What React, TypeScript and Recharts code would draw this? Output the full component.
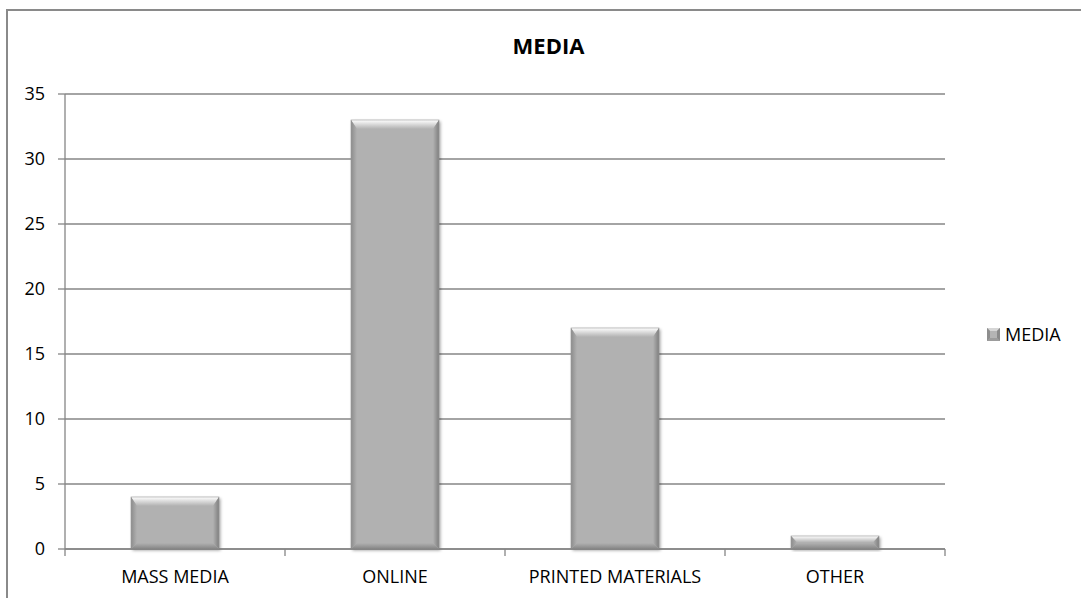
import React from 'react';
import { BarChart, Bar, XAxis, YAxis, CartesianGrid, Legend } from 'recharts';

// Survey answers: where people heard about it
const categories = ['MASS MEDIA', 'ONLINE', 'PRINTED MATERIALS', 'OTHER'];
const mediaValues = [4, 33, 17, 1];
const yTicks = [0, 5, 10, 15, 20, 25, 30, 35];
const seriesName = 'MEDIA';

const data = categories.map((name, i) => ({ name, media: mediaValues[i] }));

const FONT = '"Open Sans", "Noto Sans", sans-serif';
const AXIS = '#868686';
const FACE = '#b1b1b1';

// Bar with a soft bevel: light top band, shaded sides and bottom
const BevelBar = (props: any) => {
  const { x, y, width, height } = props;
  if (!height || height <= 0) return null;
  const bt = Math.min(9, height / 2);
  const bs = Math.min(6, width / 2);
  const bb = Math.min(6, height / 2);
  const r = x + width;
  const b = y + height;
  return (
    <g>
      <rect x={x} y={y} width={width} height={height} fill={FACE} filter="url(#barShadow)" />
      <polygon points={`${x},${y} ${r},${y} ${r - bs},${y + bt} ${x + bs},${y + bt}`} fill="url(#bevelTop)" />
      <polygon points={`${x},${y} ${x + bs},${y + bt} ${x + bs},${b - bb} ${x},${b}`} fill="url(#bevelLeft)" />
      <polygon points={`${r},${y} ${r - bs},${y + bt} ${r - bs},${b - bb} ${r},${b}`} fill="url(#bevelRight)" />
      <polygon points={`${x},${b} ${x + bs},${b - bb} ${r - bs},${b - bb} ${r},${b}`} fill="url(#bevelBottom)" />
      <rect x={x} y={y} width={width} height={height} fill="none" stroke="#9a9a9a" strokeWidth={0.6} />
    </g>
  );
};

// Category label plus tick marks on the band boundaries
const CategoryTick = (props: any) => {
  const { x, y, width, visibleTicksCount, index, payload } = props;
  const half = width / visibleTicksCount / 2;
  const last = index === visibleTicksCount - 1;
  return (
    <g>
      <line x1={x - half} y1={y} x2={x - half} y2={y + 7} stroke={AXIS} strokeWidth={1.3} />
      {last && <line x1={x + half} y1={y} x2={x + half} y2={y + 7} stroke={AXIS} strokeWidth={1.3} />}
      <text x={x} y={y + 21} dy="0.71em" textAnchor="middle" fill="#000" fontSize={18} fontFamily={FONT}>
        {payload.value}
      </text>
    </g>
  );
};

const LegendContent = () => (
  <div style={{ display: 'flex', alignItems: 'center', fontFamily: FONT, fontSize: 18, color: '#000', whiteSpace: 'nowrap' }}>
    <svg width={13} height={13} style={{ marginRight: 5 }}>
      <rect x={0} y={0} width={13} height={13} fill="#a4a4a4" />
      <polygon points="0,0 13,0 6.5,6.5" fill="#d6d6d6" />
      <polygon points="0,0 6.5,6.5 0,13" fill="#8e8e8e" />
      <polygon points="13,0 6.5,6.5 13,13" fill="#8a8a8a" />
      <polygon points="0,13 6.5,6.5 13,13" fill="#9c9c9c" />
      <rect x={3} y={3} width={7} height={7} fill="#b4b4b4" />
    </svg>
    <span>{seriesName}</span>
  </div>
);

export default function App() {
  return (
    <div style={{ position: 'absolute', left: 0, top: 0, width: 1081, height: 598, overflow: 'hidden', background: '#fff' }}>
      <div
        style={{
          position: 'absolute',
          left: 6,
          top: 9,
          width: 1200,
          height: 800,
          border: '2px solid #8a8a8a',
          boxSizing: 'border-box',
        }}
      />
      <div
        style={{
          position: 'absolute',
          left: 0,
          top: 30,
          width: 1081,
          textAlign: 'center',
          fontFamily: FONT,
          fontWeight: 700,
          fontSize: 22,
          lineHeight: '30px',
          color: '#000',
        }}
      >
        <span style={{ position: 'relative', left: 8 }}>{seriesName}</span>
      </div>
      <div style={{ position: 'absolute', left: 0, top: 0 }}>
        <BarChart
          width={1081}
          height={598}
          data={data}
          margin={{ top: 94, right: 46, left: 0, bottom: 19 }}
          barCategoryGap="30%"
        >
          <defs>
            <linearGradient id="bevelTop" x1="0" y1="0" x2="0" y2="1">
              <stop offset="0%" stopColor="#ffffff" />
              <stop offset="100%" stopColor={FACE} />
            </linearGradient>
            <linearGradient id="bevelLeft" x1="0" y1="0" x2="1" y2="0">
              <stop offset="0%" stopColor="#8c8c8c" />
              <stop offset="100%" stopColor={FACE} />
            </linearGradient>
            <linearGradient id="bevelRight" x1="0" y1="0" x2="1" y2="0">
              <stop offset="0%" stopColor={FACE} />
              <stop offset="100%" stopColor="#7e7e7e" />
            </linearGradient>
            <linearGradient id="bevelBottom" x1="0" y1="0" x2="0" y2="1">
              <stop offset="0%" stopColor={FACE} />
              <stop offset="100%" stopColor="#858585" />
            </linearGradient>
            <filter id="barShadow" x="-20%" y="-20%" width="140%" height="140%">
              <feDropShadow dx="1.5" dy="1.5" stdDeviation="1.8" floodColor="#000" floodOpacity="0.35" />
            </filter>
          </defs>
          <CartesianGrid vertical={false} stroke={AXIS} strokeWidth={1.3} />
          <XAxis
            dataKey="name"
            tickLine={false}
            tickSize={0}
            tickMargin={0}
            axisLine={{ stroke: AXIS, strokeWidth: 1.3 }}
            tick={<CategoryTick />}
            height={30}
            interval={0}
          />
          <YAxis
            domain={[0, 35]}
            ticks={yTicks}
            width={65}
            tickSize={7}
            tickMargin={13}
            tickLine={{ stroke: AXIS, strokeWidth: 1.3 }}
            axisLine={{ stroke: AXIS, strokeWidth: 1.3 }}
            tick={{ fill: '#000', fontSize: 18, fontFamily: FONT }}
            interval={0}
          />
          <Legend
            layout="vertical"
            align="right"
            verticalAlign="middle"
            content={<LegendContent />}
            wrapperStyle={{ left: 987, top: 322, width: 90 }}
          />
          <Bar dataKey="media" name={seriesName} shape={<BevelBar />} isAnimationActive={false} />
        </BarChart>
      </div>
    </div>
  );
}
